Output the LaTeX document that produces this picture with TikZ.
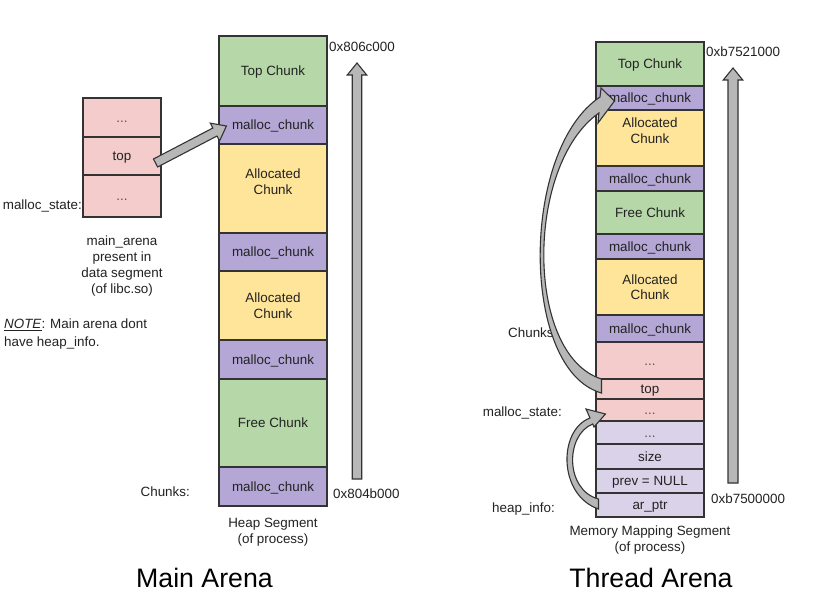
\documentclass[tikz,border=0pt]{standalone}
\usepackage{fontspec}
\setmainfont{Liberation Sans}
\usetikzlibrary{calc}
\definecolor{cgreen}{HTML}{B6D7A8}
\definecolor{cpurple}{HTML}{B4A7D6}
\definecolor{cyellow}{HTML}{FFE599}
\definecolor{cpink}{HTML}{F4CCCC}
\definecolor{clav}{HTML}{D9D2E9}
\definecolor{carrow}{HTML}{B7B7B7}
\definecolor{cline}{HTML}{333333}
\definecolor{ctxt}{HTML}{222222}
\definecolor{cdots}{HTML}{555555}
\newcommand\fsz{\fontsize{13.4pt}{15.5pt}\selectfont}
\newcommand\fszb{\fontsize{13.4pt}{16pt}\selectfont}
% straight block arrow: #1 tail, #2 tip, #3 half shaft width, #4 half head width, #5 head length
\newcommand\barrow[5]{%
  \coordinate (barC) at ($(#2)!#5!(#1)$);
  \path[blockarr] ($(#1)!#3!90:(#2)$) -- ($(barC)!#3!90:(#2)$) -- ($(barC)!#4!90:(#2)$)
    -- (#2) -- ($(barC)!#4!-90:(#2)$) -- ($(barC)!#3!-90:(#2)$) -- ($(#1)!#3!-90:(#2)$) -- cycle;}
\begin{document}
\begin{tikzpicture}[x=1pt,y=-1pt,
  cellbase/.style={draw=cline, line width=1.1pt, minimum width=108pt, inner sep=0pt, font=\fsz, text=ctxt},
  cell/.style={cellbase, text height=9.6pt, text depth=0pt},
  cellm/.style={cellbase, align=center},
  small/.style={minimum width=78pt},
  dots/.style={text=cdots},
  txt/.style={font=\fszb, text=ctxt, inner sep=0pt},
  lbl/.style={txt, text height=9.6pt, text depth=0pt},
  title/.style={font=\fontsize{26.7pt}{30pt}\selectfont, text=black, inner sep=0pt},
  blockarr/.style={fill=carrow, draw=cline, line width=1.1pt, line join=miter}]
\useasboundingbox (0,0) rectangle (824,596);
\fill[white] (0,0) rectangle (824,596);

% ---------- Main arena: heap segment ----------
\node[cell, fill=cgreen, minimum height=70pt] (lt1) at (273,71) {Top Chunk};
\node[cell, fill=cpurple, minimum height=38pt] (lm1) at (273,125) {malloc\_chunk};
\node[cellm, fill=cyellow, minimum height=89pt,
      label={[txt, align=center, yshift=7pt]center:Allocated\\Chunk}] (la1) at (273,188.5) {};
\node[cell, fill=cpurple, minimum height=38pt] (lm2) at (273,252) {malloc\_chunk};
\node[cellm, fill=cyellow, minimum height=69pt] (la2) at (273,305.5) {Allocated\\Chunk};
\node[cell, fill=cpurple, minimum height=39pt] (lm3) at (273,359.5) {malloc\_chunk};
\node[cell, fill=cgreen, minimum height=88pt] (lf1) at (273,423) {Free Chunk};
\node[cell, fill=cpurple, minimum height=39pt] (lm4) at (273,486.5) {malloc\_chunk};

% ---------- Main arena: malloc_state ----------
\node[cell, small, fill=cpink, minimum height=39pt] (lp1) at (122,117.5) {\textcolor{cdots}{...}};
\node[cell, small, fill=cpink, minimum height=38pt] (lpt) at (122,156) {top};
\node[cell, small, fill=cpink, minimum height=42pt] (lp2) at (122,196) {\textcolor{cdots}{...}};

% ---------- Main arena labels ----------
\node[lbl, anchor=east] (lms) at (82,205) {malloc\_state:};
\node[txt, align=center] (lmain) at (122,266) {main\_arena\\present in\\data segment\\(of libc.so)};
\node[txt, align=left, anchor=west, font=\fontsize{13.4pt}{17.4pt}\selectfont] (lnote) at (4,334)
  {\underline{\textit{NOTE}}: Main arena dont\\have heap\_info.};
\node[lbl, anchor=east] (lchunks) at (190,492) {Chunks:};
\node[lbl, anchor=west] (ladrtop) at (329,47) {0x806c000};
\node[lbl, anchor=west] (ladrbot) at (333,494) {0x804b000};
\node[txt, align=center] (lheap) at (273,532) {Heap Segment\\(of process)};
\node[title, anchor=base] (lttl) at (204.5,587) {Main Arena};

% ---------- Main arena arrows ----------
\coordinate (lva) at (357,479);
\coordinate (lvb) at (357,63);
\barrow{lva}{lvb}{4.75pt}{9.75pt}{12pt}
\coordinate (ta) at ($(lpt.east)+(-6,7)$);
\coordinate (tb) at ($(lm1.west)+(8,1)$);
\barrow{ta}{tb}{4.5pt}{10pt}{13pt}

% ---------- Thread arena: memory mapping segment ----------
\node[cell, fill=cgreen, minimum height=44pt] (rt1) at (650,64) {Top Chunk};
\node[cell, fill=cpurple, minimum height=24pt] (rm1) at (650,98) {malloc\_chunk};
\node[cellm, fill=cyellow, minimum height=56pt,
      label={[txt, align=center, yshift=7.5pt]center:Allocated\\Chunk}] (ra1) at (650,138) {};
\node[cell, fill=cpurple, minimum height=25pt] (rm2) at (650,178.5) {malloc\_chunk};
\node[cell, fill=cgreen, minimum height=43pt] (rf1) at (650,212.5) {Free Chunk};
\node[cell, fill=cpurple, minimum height=25pt] (rm3) at (650,246.5) {malloc\_chunk};
\node[cellm, fill=cyellow, minimum height=56pt] (ra2) at (650,287) {Allocated\\Chunk};
\node[cell, fill=cpurple, minimum height=27pt] (rm4) at (650,328.5) {malloc\_chunk};
\node[cell, fill=cpink, minimum height=37pt] (rp1) at (650,360.5) {\textcolor{cdots}{...}};
\node[cell, fill=cpink, minimum height=20pt] (rtop) at (650,389) {top};
\node[cell, fill=cpink, minimum height=22pt] (rp2) at (650,410) {\textcolor{cdots}{...}};
\node[cell, fill=clav, minimum height=23pt] (rl1) at (650,432.5) {\textcolor{cdots}{...}};
\node[cell, fill=clav, minimum height=25pt] (rsize) at (650,456.5) {size};
\node[cell, fill=clav, minimum height=24pt] (rprev) at (650,481) {prev = NULL};
\node[cell, fill=clav, minimum height=24pt] (rar) at (650,505) {ar\_ptr};

% ---------- Thread arena labels ----------
\node[lbl, anchor=west] (rchunks) at (508,333) {Chunks:};
\node[lbl, anchor=east] (rms) at (562,412) {malloc\_state:};
\node[lbl, anchor=east] (rhi) at (555,508) {heap\_info:};
\node[lbl, anchor=west] (radrtop) at (706,52) {0xb7521000};
\node[lbl, anchor=west] (radrbot) at (711,499) {0xb7500000};
\node[txt, align=center] (rmm) at (650,540.5) {Memory Mapping Segment\\(of process)};
\node[title, anchor=base] (rttl) at (651,587) {Thread Arena};

% ---------- Thread arena arrows ----------
\coordinate (rva) at (733,483);
\coordinate (rvb) at (733,68);
\barrow{rva}{rvb}{5pt}{9.75pt}{12pt}
% curved arrow: top -> malloc_chunk
\coordinate (bt1) at ($(rtop.west)+(6,-10)$);
\coordinate (bt2) at ($(rtop.west)+(6,4)$);
\coordinate (bh) at ($(rm1.west)+(19,3)$);
\path[blockarr] (bt1) -- (bt2) .. controls (520,370) and (520,150) .. (600,97)
  -- (601,88) -- (bh) -- (598,123) -- (598.9,113) .. controls (525,165) and (525,355) .. (bt1) -- cycle;
% curved arrow: ar_ptr -> malloc_state
\coordinate (st1) at ($(rar.west)+(3,-6)$);
\coordinate (st2) at ($(rar.west)+(3,4)$);
\coordinate (sh) at ($(rp2.west)+(10,4)$);
\path[blockarr] (st1) -- (st2) .. controls (558,495) and (558,430) .. (590,418)
  -- (586,409) -- (sh) -- (594,427) -- (592.7,424) .. controls (565,435) and (565,490) .. (st1) -- cycle;
\end{tikzpicture}
\end{document}
